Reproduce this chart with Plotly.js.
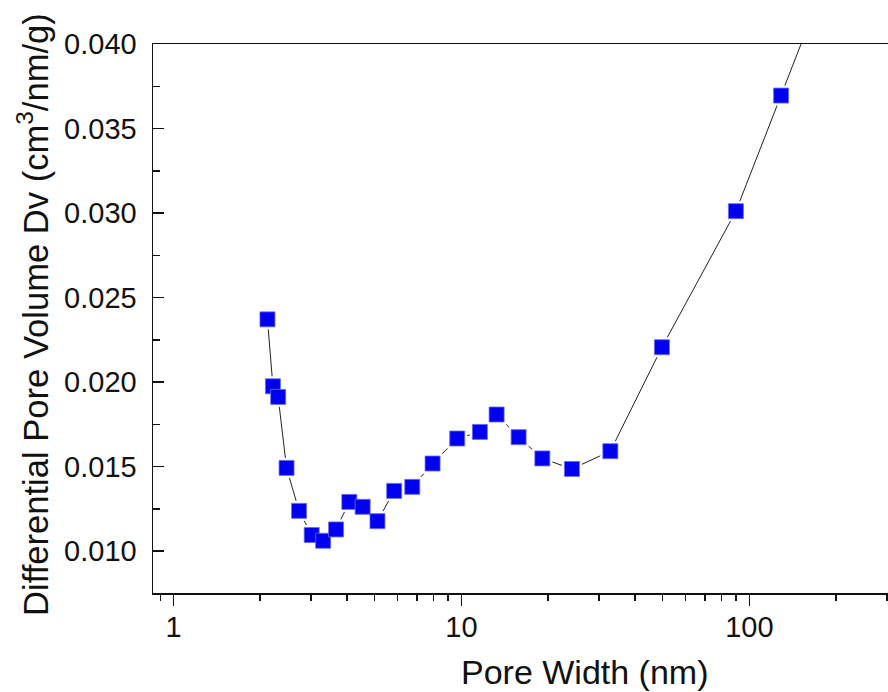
<!DOCTYPE html>
<html>
<head>
<meta charset="utf-8">
<script src="https://cdn.plot.ly/plotly-3.0.1.min.js"></script>
<style>html,body{margin:0;padding:0;background:#fff;}#chart{width:888px;height:692px;}</style>
</head>
<body>
<div id="chart"></div>
<script>
const poreWidth = [2.12, 2.215, 2.31, 2.47, 2.73, 3.02, 3.31, 3.67, 4.08, 4.54, 5.11, 5.84, 6.75, 7.94, 9.67, 11.59, 13.25, 15.8, 19.1, 24.2, 32.9, 49.7, 89.8, 128.9, 178];
const dv = [0.02371, 0.01975, 0.01912, 0.01492, 0.01238, 0.01095, 0.01061, 0.01128, 0.01291, 0.01262, 0.01177, 0.01356, 0.01380, 0.01518, 0.01666, 0.01705, 0.01808, 0.01674, 0.01548, 0.01486, 0.01591, 0.02206, 0.03011, 0.03695, 0.0431];
const xTickVals = [1, 10, 100];
const xTickText = ['1', '10', '100'];
const yTickVals = [0.010, 0.015, 0.020, 0.025, 0.030, 0.035, 0.040];
const yTickText = ['0.010', '0.015', '0.020', '0.025', '0.030', '0.035', '0.040'];
const xTitle = 'Pore Width (nm)';
const yTitle = 'Differential Pore Volume Dv (cm<sup>3</sup>/nm/g)';

const font = 'Liberation Sans, Arial, sans-serif';
const traces = [
  {x: poreWidth, y: dv, type: 'scatter', mode: 'lines+markers',
   line: {color: '#222', width: 1},
   marker: {symbol: 'square', size: 20, color: '#fff', line: {width: 0}},
   hoverinfo: 'skip', showlegend: false},
  {x: poreWidth, y: dv, type: 'scatter', mode: 'markers',
   marker: {symbol: 'square', size: 15, color: '#0000f0', line: {color: '#6a6af5', width: 0.8}},
   showlegend: false}
];
const layout = {
  width: 888, height: 692,
  margin: {l: 153, r: 0, t: 44, b: 99},
  paper_bgcolor: '#fff', plot_bgcolor: '#fff',
  font: {family: font, color: '#111'},
  showlegend: false,
  xaxis: {
    type: 'log', range: [Math.log10(0.849), Math.log10(303)],
    tickvals: xTickVals, ticktext: xTickText,
    ticks: 'outside', ticklen: 11, tickwidth: 1.5, tickcolor: '#111',
    minor: {dtick: 'D1', ticks: 'outside', ticklen: 6, tickwidth: 1.5, tickcolor: '#111', showgrid: false},
    showline: true, linecolor: '#111', linewidth: 1.5, mirror: true,
    showgrid: false, zeroline: false,
    ticklabelstandoff: -3,
    tickfont: {size: 29, family: font, color: '#111'}
  },
  yaxis: {
    range: [0.00752, 0.0400],
    tickvals: yTickVals, ticktext: yTickText,
    ticks: 'inside', ticklen: 11, tickwidth: 1.5, tickcolor: '#111',
    minor: {dtick: 0.0025, ticks: 'inside', ticklen: 7, tickwidth: 1.5, tickcolor: '#111', showgrid: false},
    showline: true, linecolor: '#111', linewidth: 1.5,
    showgrid: false, zeroline: false,
    ticklabelstandoff: 9,
    tickfont: {size: 29, family: font, color: '#111'}
  },
  annotations: [
    {text: xTitle, xref: 'paper', yref: 'paper', x: (585 - 153) / 735, y: -(672 - 593) / 549,
     xanchor: 'center', yanchor: 'middle', showarrow: false,
     font: {size: 34, family: font, color: '#111'}},
    {text: yTitle, xref: 'paper', yref: 'paper', x: (33 - 153) / 735, y: (593 - 315) / 549,
     xanchor: 'center', yanchor: 'middle', showarrow: false, textangle: -90,
     font: {size: 34.6, family: font, color: '#111'}}
  ]
};
Plotly.newPlot('chart', traces, layout, {displayModeBar: false, staticPlot: true});
</script>
</body>
</html>
